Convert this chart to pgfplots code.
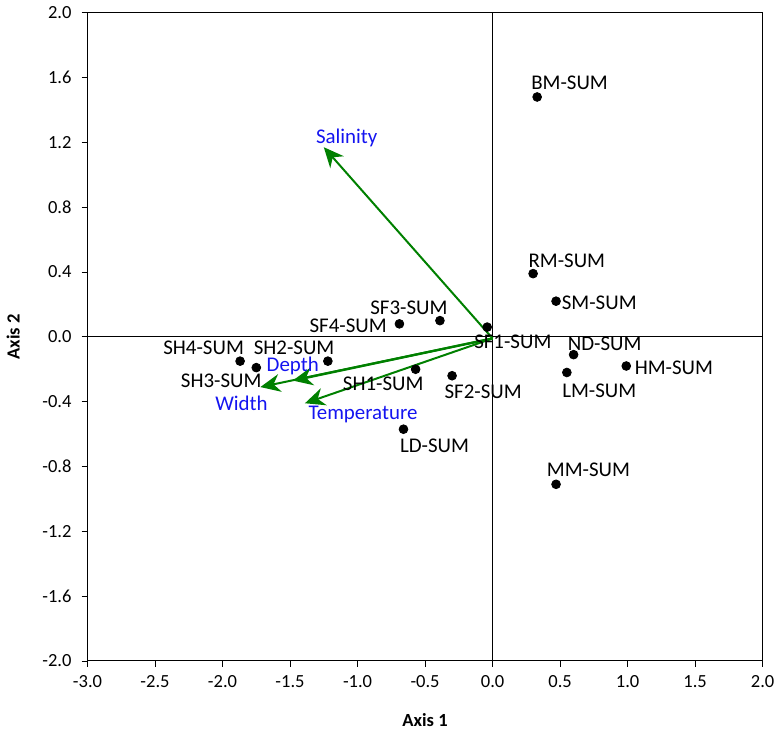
\documentclass[border=0pt]{standalone}
\usepackage{fontspec}
\setmainfont{Carlito}
\usepackage{pgfplots}
\pgfplotsset{compat=1.18}
\usetikzlibrary{arrows.meta}
\definecolor{arrgreen}{RGB}{0,128,0}
\definecolor{lblblue}{RGB}{20,20,240}
\begin{document}
\begin{tikzpicture}
\begin{axis}[
  scale only axis,
  width=339pt, height=325.5pt,
  xmin=-3, xmax=2, ymin=-2, ymax=2,
  xtick={-3,-2.5,...,2}, ytick={-2,-1.6,...,2.01},
  xticklabel style={yshift=-1pt,/pgf/number format/.cd,fixed,fixed zerofill,precision=1},
  yticklabel style={xshift=-1.5pt,/pgf/number format/.cd,fixed,fixed zerofill,precision=1},
  /pgf/number format/assume math mode=true,
  tick align=outside, tick pos=left,
  major tick length=3pt,
  tick style={black, line width=0.4pt},
  ticklabel style={font=\fontsize{9.3}{10}\selectfont},
  axis line style={line width=0.5pt},
  xlabel={\textbf{Axis 1}}, ylabel={\textbf{Axis 2}},
  label style={font=\fontsize{9.3}{10}\selectfont},
  xlabel style={yshift=-6pt},
  ylabel style={yshift=4.5pt},
  clip=false,
]
% zero lines
\addplot[black, line width=0.4pt, forget plot] coordinates {(-3,0) (2,0)};
\addplot[black, line width=0.4pt, forget plot] coordinates {(0,-2) (0,2)};
% sites
\addplot[only marks, mark=*, mark size=2.2pt, black] coordinates {
(0.33,1.48) (0.30,0.39) (0.47,0.22) (-0.04,0.06) (-0.39,0.10) (-0.69,0.08)
(-1.87,-0.15) (-1.75,-0.19) (-1.22,-0.15) (-0.57,-0.20) (-0.30,-0.24)
(-0.66,-0.57) (0.60,-0.11) (0.99,-0.18) (0.55,-0.22) (0.47,-0.91)};
% vectors
\addplot[arrgreen, line width=1pt, -{Stealth[length=10pt,width=9pt]}] coordinates {(0,-0.01) (-1.25,1.17)};
\addplot[arrgreen, line width=1pt, -{Stealth[length=10pt,width=9pt]}] coordinates {(0,-0.01) (-1.72,-0.31)};
\addplot[arrgreen, line width=1.2pt, -{Stealth[length=10pt,width=9pt]}] coordinates {(0,-0.01) (-1.48,-0.27)};
\addplot[arrgreen, line width=1pt, -{Stealth[length=10pt,width=9pt]}] coordinates {(0,-0.01) (-1.39,-0.41)};
% labels
\begin{scope}[every node/.style={font=\fontsize{10.5}{12}\selectfont, inner sep=0pt}]
\node at (axis cs:0.57,1.57) {BM-SUM};
\node at (axis cs:0.55,0.47) {RM-SUM};
\node[anchor=west] at (axis cs:0.51,0.21) {SM-SUM};
\node at (axis cs:0.15,-0.03) {SF1-SUM};
\node at (axis cs:-0.62,0.18) {SF3-SUM};
\node at (axis cs:-1.07,0.07) {SF4-SUM};
\node at (axis cs:-2.14,-0.07) {SH4-SUM};
\node at (axis cs:-1.47,-0.07) {SH2-SUM};
\node at (axis cs:-2.01,-0.27) {SH3-SUM};
\node at (axis cs:-0.81,-0.29) {SH1-SUM};
\node at (axis cs:-0.07,-0.34) {SF2-SUM};
\node at (axis cs:-0.43,-0.67) {LD-SUM};
\node at (axis cs:0.83,-0.04) {ND-SUM};
\node[anchor=west] at (axis cs:1.05,-0.19) {HM-SUM};
\node at (axis cs:0.79,-0.33) {LM-SUM};
\node at (axis cs:0.71,-0.82) {MM-SUM};
\end{scope}
\begin{scope}[every node/.style={font=\fontsize{10.5}{12}\selectfont, inner sep=0pt, text=lblblue}]
\node at (axis cs:-1.08,1.23) {Salinity};
\node at (axis cs:-1.48,-0.18) {Depth};
\node at (axis cs:-1.86,-0.41) {Width};
\node at (axis cs:-0.96,-0.48) {Temperature};
\end{scope}
\end{axis}
\end{tikzpicture}
\end{document}
